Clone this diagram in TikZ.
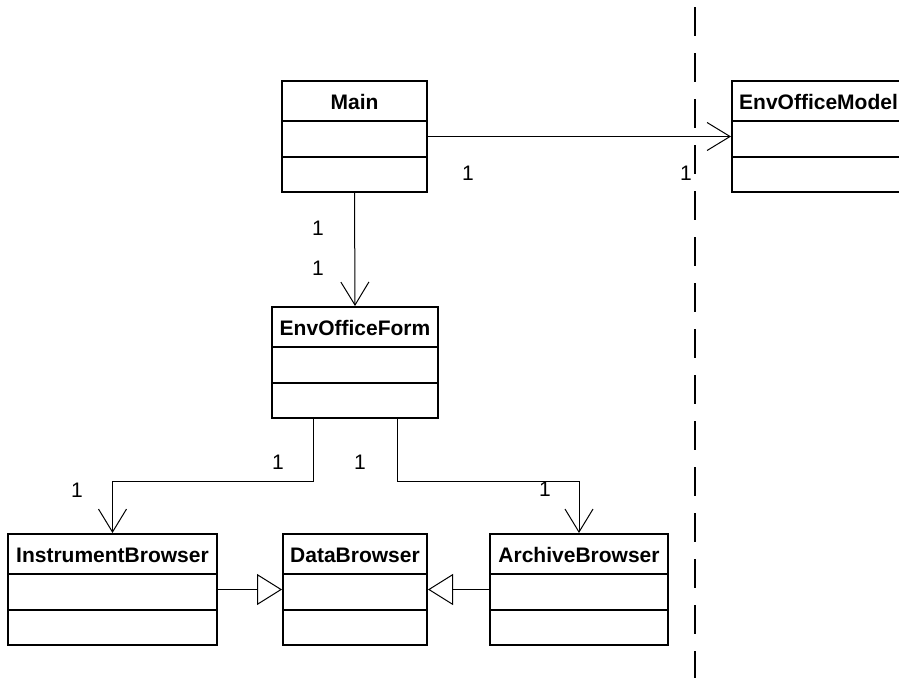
\documentclass[tikz,border=0pt]{standalone}
\usepackage{fontspec}
\setmainfont{Liberation Sans}
\usetikzlibrary{shapes.multipart,arrows.meta}
\begin{document}
\begin{tikzpicture}[x=1pt, y=-1pt, font=\fontsize{21}{25}\selectfont,
        class/.style={rectangle split, rectangle split parts=3, draw, line width=2pt, inner xsep=6pt, inner ysep=0pt},
        assoc/.style={line width=1pt, -{Straight Barb[length=23pt, width=28pt]}},
        inherit/.style={line width=1pt, -{Triangle[open, length=25pt, width=31pt]}}]
        \clip (0,0) rectangle (899,678);
        \node[class, minimum width=145pt] (main) at (354.5, 136.5) {\rule[-11pt]{0pt}{38pt}\textbf{Main}\nodepart{two}\rule{0pt}{34pt}\nodepart{three}\rule{0pt}{33pt}};
        \node[class, minimum width=173pt] (model) at (818.5, 136.5) {\rule[-11pt]{0pt}{38pt}\textbf{EnvOfficeModel}\nodepart{two}\rule{0pt}{34pt}\nodepart{three}\rule{0pt}{33pt}};
        \node[class, minimum width=166pt] (form) at (355, 362.5) {\rule[-11pt]{0pt}{38pt}\textbf{EnvOfficeForm}\nodepart{two}\rule{0pt}{34pt}\nodepart{three}\rule{0pt}{33pt}};
        \node[class, minimum width=209pt] (instr) at (112.5, 589.5) {\rule[-11pt]{0pt}{38pt}\textbf{InstrumentBrowser}\nodepart{two}\rule{0pt}{34pt}\nodepart{three}\rule{0pt}{33pt}};
        \node[class, minimum width=144pt] (data) at (355, 589.5) {\rule[-11pt]{0pt}{38pt}\textbf{DataBrowser}\nodepart{two}\rule{0pt}{34pt}\nodepart{three}\rule{0pt}{33pt}};
        \node[class, minimum width=178pt] (arch) at (579, 589.5) {\rule[-11pt]{0pt}{38pt}\textbf{ArchiveBrowser}\nodepart{two}\rule{0pt}{34pt}\nodepart{three}\rule{0pt}{33pt}};
        \draw[line width=2pt, dash pattern=on 29pt off 17pt, dash phase=39pt] (695, 0) -- (695, 678);
        \draw[assoc] (main.east) -- (model.west);
        \draw[assoc] (main.south) -- (form.north);
        \draw[assoc] ([xshift=-42pt]form.south) -- ++(0, 62) -| (instr.north);
        \draw[assoc] ([xshift=42pt]form.south) -- ++(0, 62) -| (arch.north);
        \draw[inherit] (instr.east) -- (data.west);
        \draw[inherit] (arch.west) -- (data.east);
        \node (m1) at (468, 173) {1};
        \node (m2) at (686, 173) {1};
        \node (m3) at (318, 228) {1};
        \node (m4) at (318, 268) {1};
        \node (m5) at (278, 462) {1};
        \node (m6) at (360, 462) {1};
        \node (m7) at (77, 490) {1};
        \node (m8) at (545, 489) {1};
    \end{tikzpicture}
\end{document}
